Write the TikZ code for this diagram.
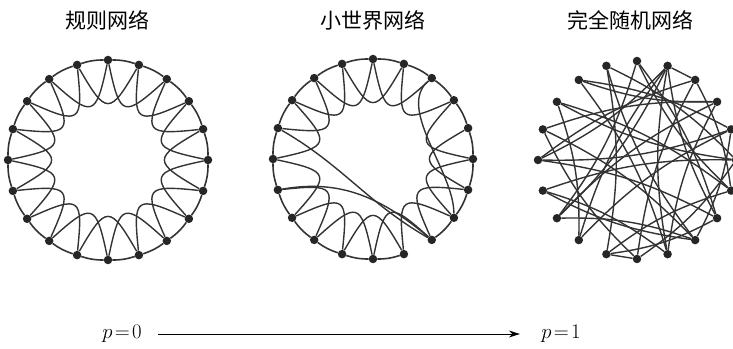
\documentclass[tikz,border=0pt]{standalone}
\usepackage{fontspec}
\newfontfamily\cjk{Noto Sans CJK SC}
\usetikzlibrary{positioning,arrows.meta}

\begin{document}
\begin{tikzpicture}[x=1pt,y=1pt,
          every node/.style={font=\fontsize{20}{24}\selectfont},
          title/.style={font=\cjk\fontsize{21}{24}\selectfont},
          vert/.style={circle,fill=black!85,inner sep=0pt,minimum size=8.5pt},
          ledge/.style={black!80,line width=1.6pt},
          hedge/.style={black!80,line width=1.4pt},
        ]
        \useasboundingbox (0,0) rectangle (733,348);
        % titles
        \node[title] (t1) at (107,328) {规则网络};
        \node[title] (t2) at (373,328) {小世界网络};
        \node[title] (t3) at (630,328) {完全随机网络};
        % vertices of the three rings
        \foreach \i in {0,...,19} {
          \pgfmathsetmacro{\aa}{90+18*\i}
          \node[vert] (a\i) at ([shift={(108,188)}]\aa:100) {};
          \node[vert] (b\i) at ([shift={(373,189)}]\aa:100) {};
          \node[vert] (c\i) at ([shift={(637,188)}]\aa:99) {};
        }
        % regular ring
        \foreach \i in {0,...,19} {
          \pgfmathtruncatemacro{\j}{mod(\i+1,20)}
          \pgfmathtruncatemacro{\k}{mod(\i+2,20)}
          \pgfmathsetmacro{\oo}{90+18*\i+168}
          \pgfmathsetmacro{\ii}{90+18*\k+192}
          \draw[ledge] (a\i) to[bend right=9] (a\j);
          \draw[hedge] (a\i) to[out=\oo,in=\ii,looseness=2.4] (a\k);
        }
        % small world ring
        \foreach \i in {0,...,19} {
          \pgfmathtruncatemacro{\j}{mod(\i+1,20)}
          \pgfmathtruncatemacro{\k}{mod(\i+2,20)}
          \pgfmathsetmacro{\oo}{90+18*\i+168}
          \pgfmathsetmacro{\ii}{90+18*\k+192}
          \ifnum\i=11\else
            \draw[ledge] (b\i) to[bend right=9] (b\j);
          \fi
          \ifnum\i=4\else\ifnum\i=16\else
            \draw[hedge] (b\i) to[out=\oo,in=\ii,looseness=2.4] (b\k);
          \fi\fi
        }
        \draw[hedge] (b4) to[out=-30,in=150] (b12);
        \draw[hedge] (b6) to[out=10,in=140] (b12);
        \draw[hedge] (b18) to[out=220,in=90,looseness=0.8] (b13);
        % random ring
        \foreach \i/\j in {0/7,0/13,1/9,1/15,2/11,2/16,3/8,3/14,4/12,4/17,
                           5/13,5/18,6/15,6/11,7/17,8/16,8/19,9/14,10/18,10/4,
                           11/17,11/19,12/1,12/6,13/9,14/0,15/10,16/5,18/14,19/7,
                           19/5,16/12,13/19,17/2,15/3,7/12} {
          \draw[hedge] (c\i) to[bend left=10] (c\j);
        }
        \draw[hedge] (c18) -- (c19);
        \draw[hedge] (c9) -- (c10);
        % bottom axis
        \node (p0) at (122,14) {$p\mkern2mu{=}\mkern2mu0$};
        \node (p1) at (561,14) {$p\mkern2mu{=}\mkern2mu1$};
        \draw[-{Stealth[length=11pt,width=7pt]},line width=0.9pt,
              shorten <=13pt,shorten >=18pt] (p0) -- (p1);
      \end{tikzpicture}
\end{document}
